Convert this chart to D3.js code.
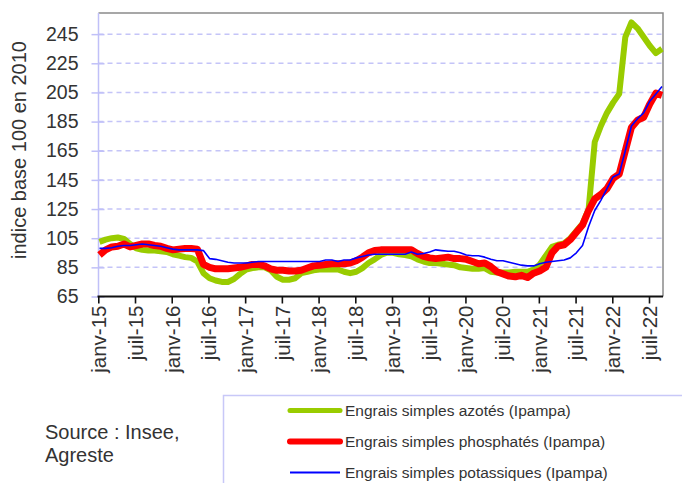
<!DOCTYPE html>
<html>
<head>
<meta charset="utf-8">
<script src="https://cdn.jsdelivr.net/npm/d3@7"></script>
<style>
  body { margin: 0; background: #fff; }
  svg { display: block; font-family: "Liberation Sans", Arial, sans-serif; }
</style>
</head>
<body>
<div id="chart"></div>
<script>
// indices mensuels janv-15 -> sept-22 (base 100 en 2010)
const azotes = [
  102.5, 104, 105, 105.5, 104.5, 101, 98, 97, 96.5, 96.5, 96, 95.5,
  94, 93, 92, 91.5, 89, 81, 77.5, 76, 75, 75, 77, 80.5,
  83.5, 84.5, 85, 85, 83, 78.5, 76.5, 76.5, 77.5, 81, 82, 83,
  83.5, 83.5, 83.5, 83.5, 82, 81, 82, 84.5, 88, 90.5, 93.5, 95,
  95, 94, 93.5, 92.5, 90.5, 89, 88, 88, 87.5, 87, 86.5, 85,
  84.5, 84, 84, 84.5, 82, 81.5, 81.5, 81.5, 82, 82, 82, 83.5,
  87, 93, 99, 100.5, 101.5, 105, 110, 115, 125, 171, 182, 191,
  198, 204, 243, 253, 249, 243, 237, 232, 235
];
const phosphates = [
  93.5, 97, 99, 99.5, 101, 99, 100, 101, 101, 100, 99.5, 98,
  97, 97.5, 98, 98, 97.5, 87, 85, 84, 84, 84, 84.5, 85,
  86, 87, 87, 86, 84, 83, 83, 82.5, 82.5, 83, 84.5, 86,
  86.5, 87, 87.5, 87.5, 87.5, 88, 89.5, 92, 95, 96.5, 97, 97,
  97, 97, 97, 97, 94.5, 92.5, 91.5, 91, 91.5, 92, 91, 91,
  90.5, 89, 87.5, 88, 85.5, 82, 80.5, 79, 78.5, 79.5, 78, 81,
  82.5, 85, 95, 99.5, 100.5, 104, 109, 114, 124, 132, 135, 139,
  146, 149, 165, 181, 186, 188, 197, 204.5, 203
];
const potassiques = [
  98, 98, 98.5, 99.5, 100, 100, 100.5, 101, 100.5, 100, 99.5, 98.5,
  97.5, 97, 97, 97, 97, 96.5, 91, 90.5, 89.5, 88.5, 88, 88,
  88, 88.5, 89, 89, 89, 89, 89, 89, 89, 89, 89, 89,
  89, 90, 90, 89, 90, 90, 91.5, 92.5, 93.5, 94, 94, 94,
  94, 94, 94, 95.5, 94, 94.5, 95.5, 97, 96.5, 96, 96, 95,
  93.5, 93, 93, 92, 90.5, 89.5, 89.5, 88.5, 87.5, 86.5, 86, 86,
  87.5, 88.5, 89, 89.5, 90, 91.5, 95, 100, 113, 124, 131, 139,
  147, 149, 165, 182, 187, 191, 199, 204, 209
];
const tickLabels = ['janv-15', 'juil-15', 'janv-16', 'juil-16', 'janv-17', 'juil-17',
  'janv-18', 'juil-18', 'janv-19', 'juil-19', 'janv-20', 'juil-20',
  'janv-21', 'juil-21', 'janv-22', 'juil-22'];
const yTicks = [65, 85, 105, 125, 145, 165, 185, 205, 225, 245];
const seriesNames = ['Engrais simples azotés (Ipampa)', 'Engrais simples phosphatés (Ipampa)', 'Engrais simples potassiques (Ipampa)'];

const W = 682, H = 483;
const pL = 98.5, pR = 662, pT = 13, pB = 296.5;

const series = [
  { name: seriesNames[0], values: azotes, color: '#99cc00', w: 6 },
  { name: seriesNames[1], values: phosphates, color: '#ff0000', w: 7 },
  { name: seriesNames[2], values: potassiques, color: '#0000ff', w: 1.6 }
];

const svg = d3.select('#chart').append('svg')
  .attr('width', W)
  .attr('height', H);

const x = d3.scalePoint()
  .domain(d3.range(azotes.length))
  .range([99.5, 662]);

const y = d3.scaleLinear()
  .domain([65, 259.5])
  .range([pB, pT]);

// grille pointillée
svg.append('g')
  .selectAll('line')
  .data(yTicks.slice(1))
  .join('line')
  .attr('x1', pL).attr('x2', pR)
  .attr('y1', d => y(d)).attr('y2', d => y(d))
  .attr('stroke', '#c4c4f8')
  .attr('stroke-width', 1.5)
  .attr('stroke-dasharray', '5,4');

// cadre haut et droit
svg.append('path')
  .attr('d', `M${pL},${pT}H${pR + 1}V${pB}`)
  .attr('fill', 'none')
  .attr('stroke', '#8a8a8a')
  .attr('stroke-width', 1.5);

// axe Y
const yAxis = svg.append('g').attr('transform', `translate(${pL},0)`)
  .call(d3.axisLeft(y).tickValues(yTicks).tickSize(7).tickPadding(13));
yAxis.select('.domain').attr('stroke', '#c0c0f8').attr('stroke-width', 1.5)
  .attr('d', `M0,${pT}V${pB}`);
yAxis.selectAll('.tick line').attr('stroke', '#c0c0f8').attr('stroke-width', 1.5)
  .attr('x1', 6);
yAxis.selectAll('.tick text')
  .attr('fill', '#333')
  .style('font-size', '19.5px');

// lignes
const line = d3.line()
  .x((d, i) => x(i))
  .y(d => y(d));

svg.append('g')
  .selectAll('path')
  .data(series)
  .join('path')
  .attr('d', d => line(d.values))
  .attr('fill', 'none')
  .attr('stroke', d => d.color)
  .attr('stroke-width', d => d.w)
  .attr('stroke-linejoin', 'round');

// axe X
const tickIdx = tickLabels.map((_, k) => k * 6);
const xAxis = svg.append('g').attr('transform', `translate(0,${pB})`)
  .call(d3.axisBottom(d3.scaleLinear().domain([0, 90]).range([98.3, 649]))
    .tickValues(tickIdx).tickSize(7).tickFormat((d, k) => tickLabels[k]));
xAxis.select('.domain').attr('stroke', '#111').attr('stroke-width', 2.2)
  .attr('d', `M${pL - 1},0H${pR + 1}`);
xAxis.selectAll('.tick line').attr('stroke', '#111').attr('stroke-width', 1.6);
xAxis.selectAll('.tick text')
  .attr('fill', '#333')
  .style('font-size', '20.5px')
  .attr('text-anchor', 'end')
  .attr('transform', 'rotate(-90)')
  .attr('x', -9)
  .attr('y', 0)
  .attr('dy', '0.36em');

// titre axe Y
svg.append('text')
  .attr('transform', 'translate(26,150) rotate(-90)')
  .attr('text-anchor', 'middle')
  .attr('fill', '#333')
  .style('font-size', '20px')
  .text('indice base 100 en 2010');

// source
svg.append('text')
  .attr('x', 45).attr('y', 439)
  .attr('fill', '#333')
  .style('font-size', '20px')
  .text('Source : Insee,');
svg.append('text')
  .attr('x', 45).attr('y', 462)
  .attr('fill', '#333')
  .style('font-size', '20px')
  .text('Agreste');

// légende
const leg = svg.append('g');
leg.append('rect')
  .attr('x', 223.5).attr('y', 395.5)
  .attr('width', 470).attr('height', 100)
  .attr('fill', '#fff')
  .attr('stroke', '#c8c8f8')
  .attr('stroke-width', 1.5);

const legY = [410.5, 441.5, 472.5];
const item = leg.selectAll('g.item')
  .data(series)
  .join('g').attr('class', 'item')
  .attr('transform', (d, i) => `translate(0,${legY[i]})`);
item.append('line')
  .attr('x1', 290).attr('x2', 340)
  .attr('stroke', d => d.color)
  .attr('stroke-width', d => d.w === 1.6 ? 2 : d.w - 1)
  .attr('stroke-linecap', d => d.w === 1.6 ? 'butt' : 'round');
item.append('text')
  .attr('x', 345).attr('y', 0).attr('dy', '0.35em')
  .attr('fill', '#333')
  .style('font-size', '15.5px')
  .text(d => d.name);
</script>
</body>
</html>
